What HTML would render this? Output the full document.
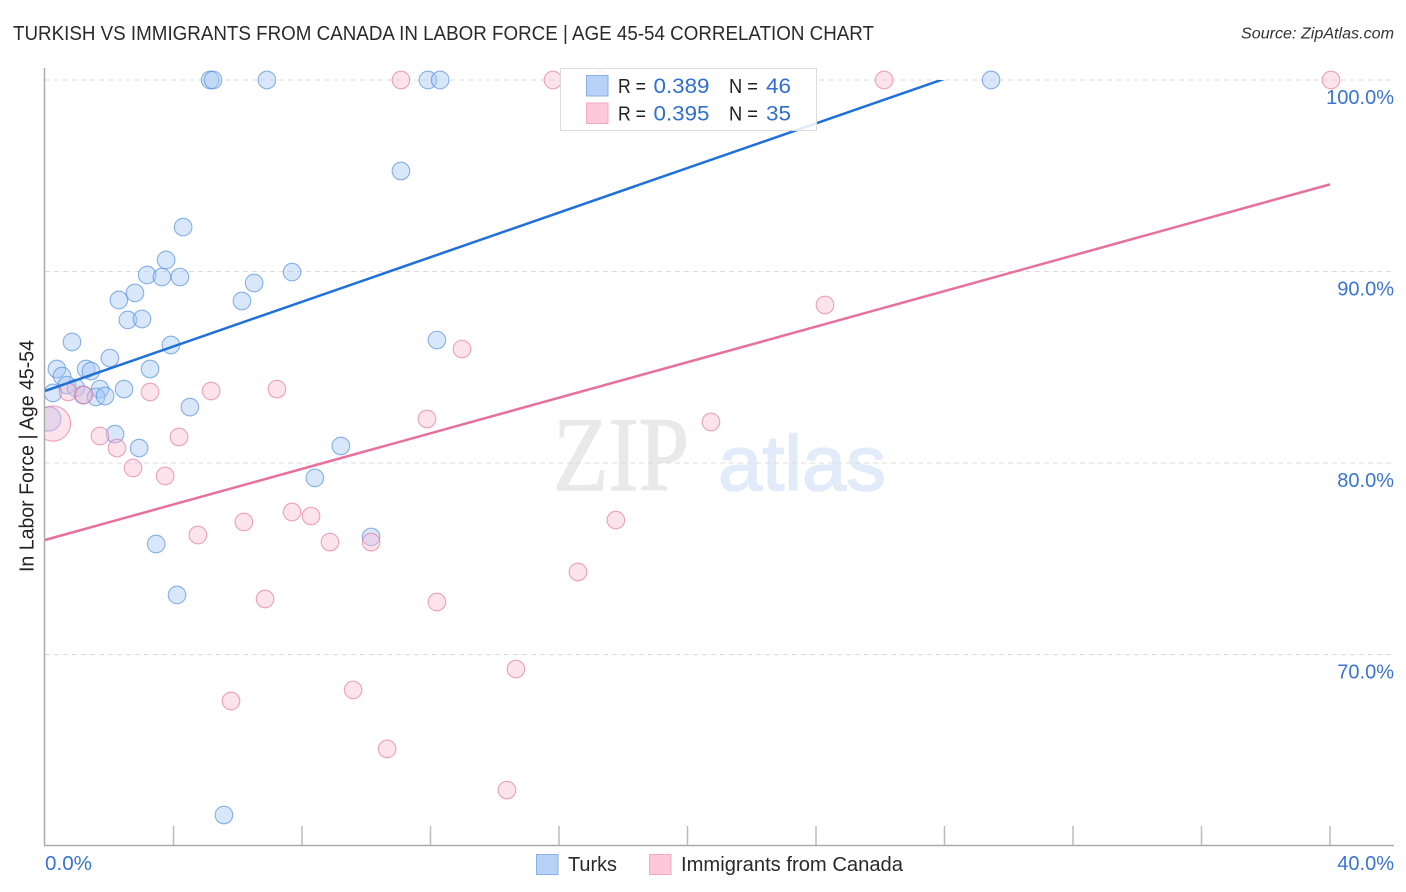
<!DOCTYPE html>
<html lang="en">
<head>
<meta charset="utf-8">
<title>Turkish vs Immigrants from Canada in Labor Force | Age 45-54 Correlation Chart</title>
<style>
html,body{margin:0;padding:0;background:#fff;}
svg{display:block;font-family:"Liberation Sans",sans-serif;}
</style>
</head>
<body>
<svg id="chart" width="1406" height="892" viewBox="0 0 1406 892" xmlns="http://www.w3.org/2000/svg">
  <defs>
    <clipPath id="plot-clip"><rect x="45" y="60" width="1349" height="785"/></clipPath>
    <clipPath id="line-clip"><rect x="45" y="80" width="1349" height="765"/></clipPath>
  </defs>
  <rect width="1406" height="892" fill="#fff"/>
  <text x="13" y="40" font-size="20" fill="#2a2a2e" textLength="861" lengthAdjust="spacingAndGlyphs">TURKISH VS IMMIGRANTS FROM CANADA IN LABOR FORCE | AGE 45-54 CORRELATION CHART</text>
  <text x="1394" y="38.500" font-size="15.500" font-style="italic" fill="#333" text-anchor="end" textLength="153" lengthAdjust="spacingAndGlyphs">Source: ZipAtlas.com</text>

  <g>
    <text x="553" y="490" font-family="'Liberation Serif',serif" font-size="106" fill="#e9e9e9" stroke="#e9e9e9" stroke-width="1.2" textLength="136" lengthAdjust="spacingAndGlyphs">ZIP</text>
    <text x="718" y="490" font-size="78" fill="#e1ebf9" stroke="#e1ebf9" stroke-width="1.5" textLength="168" lengthAdjust="spacingAndGlyphs">atlas</text>
  </g>

  <g id="grid"></g>
  <g id="axes"></g>
  <g id="points" clip-path="url(#plot-clip)"></g>
  <g id="lines" clip-path="url(#line-clip)"></g>
  <g id="tick-labels"></g>

  <text transform="translate(33.500,456) rotate(-90)" font-size="20" fill="#222" text-anchor="middle" textLength="232" lengthAdjust="spacingAndGlyphs">In Labor Force | Age 45-54</text>

  <g>
    <rect x="560.500" y="68.500" width="256" height="62" fill="#fff" fill-opacity="0.86" stroke="#dcdcdc" stroke-width="1"/>
    <rect x="586.500" y="75.500" width="21.500" height="20.500" fill="#b7d2f6" stroke="#8ab0e6" stroke-width="1"/>
    <rect x="586.500" y="103" width="21.500" height="20.500" fill="#fcc8da" stroke="#f2aac2" stroke-width="1"/>
    <text x="618" y="93" font-size="20" fill="#222" textLength="28" lengthAdjust="spacingAndGlyphs">R =</text>
    <text x="653.500" y="93" font-size="21" fill="#2f6fd0" textLength="56" lengthAdjust="spacingAndGlyphs">0.389</text>
    <text x="729" y="93" font-size="20" fill="#222" textLength="29" lengthAdjust="spacingAndGlyphs">N =</text>
    <text x="766" y="93" font-size="21" fill="#2f6fd0" textLength="25" lengthAdjust="spacingAndGlyphs">46</text>
    <text x="618" y="120.500" font-size="20" fill="#222" textLength="28" lengthAdjust="spacingAndGlyphs">R =</text>
    <text x="653.500" y="120.500" font-size="21" fill="#2f6fd0" textLength="56" lengthAdjust="spacingAndGlyphs">0.395</text>
    <text x="729" y="120.500" font-size="20" fill="#222" textLength="29" lengthAdjust="spacingAndGlyphs">N =</text>
    <text x="766" y="120.500" font-size="21" fill="#2f6fd0" textLength="25" lengthAdjust="spacingAndGlyphs">35</text>
  </g>

  <g>
    <rect x="536.500" y="854.500" width="21.500" height="20" fill="#b7d2f6" stroke="#8ab0e6" stroke-width="1"/>
    <text x="568" y="871" font-size="20" fill="#2a2a2e" textLength="49" lengthAdjust="spacingAndGlyphs">Turks</text>
    <rect x="649.500" y="854.500" width="21.500" height="20" fill="#fcc8da" stroke="#f2aac2" stroke-width="1"/>
    <text x="681" y="871" font-size="20" fill="#2a2a2e" textLength="222" lengthAdjust="spacingAndGlyphs">Immigrants from Canada</text>
  </g>
</svg>
<script>
const xTickValues = [0, 4, 8, 12, 16, 20, 24, 28, 32, 36, 40];
const xTickLabels = ["0.0%", "40.0%"];
const yTickValues = [70, 80, 90, 100];
const yTickLabels = ["70.0%", "80.0%", "90.0%", "100.0%"];

const turksX = [5.14, 5.23, 6.91, 11.92, 12.30, 29.45, 11.08, 4.30, 3.77, 3.18, 3.64, 4.20, 7.69, 6.51, 2.30, 2.80, 6.13, 2.58, 3.02, 12.20, 0.84, 3.92, 2.02, 0.37, 0.53, 1.28, 1.43, 3.27, 0.68, 0.96, 1.71, 2.46, 0.25, 1.18, 1.59, 1.87, 4.51, 0.12, 2.18, 2.93, 9.21, 8.40, 10.15, 3.46, 4.11, 5.57];
const turksY = [100, 100, 100, 100, 100, 100, 95.25, 92.32, 90.60, 89.82, 89.71, 89.71, 89.97, 89.40, 88.51, 88.88, 88.46, 87.47, 87.52, 86.42, 86.32, 86.16, 85.48, 84.91, 84.54, 84.91, 84.80, 84.91, 84.07, 83.92, 83.86, 83.86, 83.66, 83.55, 83.45, 83.50, 82.92, 82.30, 81.51, 80.78, 80.89, 79.22, 76.14, 75.77, 73.11, 61.62];
const turksWeight = [1, 1, 1, 1, 1, 1, 1, 1, 1, 1, 1, 1, 1, 1, 1, 1, 1, 1, 1, 1, 1, 1, 1, 1, 1, 1, 1, 1, 1, 1, 1, 1, 1, 1, 1, 1, 1, 1.9, 1, 1, 1, 1, 1, 1, 1, 1];

const canadaX = [11.08, 15.81, 17.28, 26.12, 40.03, 24.28, 12.98, 5.17, 7.22, 3.27, 0.72, 1.21, 11.89, 20.73, 0.25, 1.71, 4.17, 2.24, 2.74, 3.74, 7.69, 8.28, 6.19, 4.76, 8.87, 10.15, 17.77, 16.59, 6.85, 12.20, 14.66, 9.59, 5.79, 10.65, 14.38];
const canadaY = [100, 100, 100, 100, 100, 88.25, 85.95, 83.76, 83.86, 83.71, 83.71, 83.55, 82.30, 82.14, 82.06, 81.41, 81.36, 80.78, 79.74, 79.32, 77.44, 77.23, 76.92, 76.24, 75.87, 75.87, 77.02, 74.31, 72.90, 72.74, 69.24, 68.15, 67.57, 65.07, 62.92];
const canadaWeight = [1, 1, 1, 1, 1, 1, 1, 1, 1, 1, 1, 1, 1, 1, 4, 1, 1, 1, 1, 1, 1, 1, 1, 1, 1, 1, 1, 1, 1, 1, 1, 1, 1, 1, 1];

const trendX = [0, 40];
const turksTrendY = [83.76, 107.05];
const canadaTrendY = [75.98, 94.55];

const SVG_NS = "http://www.w3.org/2000/svg";
const xScale = function (v) { return 45 + v * (1330 - 45) / 40; };
const yScale = function (v) { return 80 + (100 - v) * (654.5 - 80) / 30; };

function make(tag, attrs, parent) {
  const el = document.createElementNS(SVG_NS, tag);
  Object.keys(attrs).forEach(function (k) { el.setAttribute(k, attrs[k]); });
  parent.appendChild(el);
  return el;
}

const grid = document.getElementById("grid");
const axes = document.getElementById("axes");
const pointsLayer = document.getElementById("points");
const linesLayer = document.getElementById("lines");
const labelsLayer = document.getElementById("tick-labels");

yTickValues.forEach(function (v, i) {
  const g = make("line", { x1: 45, x2: 1394, y1: yScale(v), y2: yScale(v), stroke: "#dcdcdc", "stroke-width": 1, "stroke-dasharray": "5 4" }, grid);
  
  
  const t = make("text", { x: 1394, y: yScale(v) + 24, "font-size": 20, fill: "#3a74d2", "text-anchor": "end" }, labelsLayer);
  t.textContent = yTickLabels[i];
  
  
});

const yAxisLine = make("line", { x1: 44.5, x2: 44.5, y1: 68, y2: 846, stroke: "#aaa", "stroke-width": 1.5 }, axes);


const xAxisLine = make("line", { x1: 44, x2: 1394, y1: 845.5, y2: 845.5, stroke: "#aaa", "stroke-width": 1.5 }, axes);



xTickValues.slice(1).forEach(function (v) {
  const tick = make("line", { x1: xScale(v), x2: xScale(v), y1: 826, y2: 845, stroke: "#bbb", "stroke-width": 1.5 }, axes);
  
  
});

const xLabelFirst = make("text", { x: xScale(xTickValues[0]), y: 870, "font-size": 20, fill: "#3a74d2", textLength: 47, lengthAdjust: "spacingAndGlyphs" }, labelsLayer);
xLabelFirst.textContent = xTickLabels[0];


const xLabelLast = make("text", { x: 1394, y: 870, "font-size": 20, fill: "#3a74d2", "text-anchor": "end" }, labelsLayer);
xLabelLast.textContent = xTickLabels[1];



turksX.forEach(function (v, i) {
  const c = make("circle", { cx: xScale(v), cy: yScale(turksY[i]), r: 8.8 * Math.sqrt(turksWeight[i]), fill: "#a9caf4", "fill-opacity": 0.45, stroke: "#4f8bdc", "stroke-opacity": 0.65, "stroke-width": 1.1 }, pointsLayer);
  
  
});

canadaX.forEach(function (v, i) {
  const c = make("circle", { cx: xScale(v), cy: yScale(canadaY[i]), r: 8.8 * Math.sqrt(canadaWeight[i]), fill: "#fbbcd2", "fill-opacity": 0.42, stroke: "#e2749a", "stroke-opacity": 0.65, "stroke-width": 1.1 }, pointsLayer);
  
  
});

const turksLine = make("line", { x1: xScale(trendX[0]), y1: yScale(turksTrendY[0]), x2: xScale(trendX[1]), y2: yScale(turksTrendY[1]), stroke: "#1f70d8", "stroke-width": 2.5 }, linesLayer);


const canadaLine = make("line", { x1: xScale(trendX[0]), y1: yScale(canadaTrendY[0]), x2: xScale(trendX[1]), y2: yScale(canadaTrendY[1]), stroke: "#e8709c", "stroke-width": 2.5 }, linesLayer);


</script>
</body>
</html>
